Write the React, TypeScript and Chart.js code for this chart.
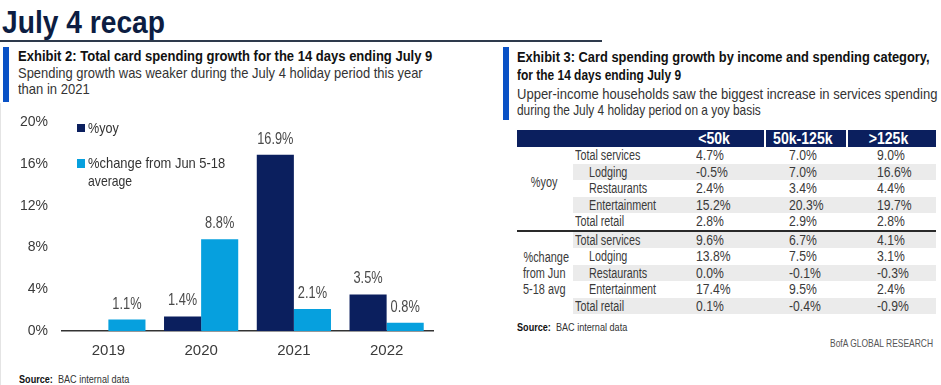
import React, { useEffect, useLayoutEffect, useRef } from 'react';
import { Chart, registerables } from 'chart.js';

Chart.register(...registerables);

// ---------- Data ----------
const categories = ['2019', '2020', '2021', '2022'];
const yoyValues: (number | null)[] = [null, 1.4, 16.9, 3.5];
const changeValues: (number | null)[] = [1.1, 8.8, 2.1, 0.8];
const seriesNames = ['%yoy', '%change from Jun 5-18 average'];
const yMin = 0;
const yMax = 20;
const yStep = 4;

const tableColumns = ['<50k', '50k-125k', '>125k'];
const tableItems = ['Total services', 'Lodging', 'Restaurants', 'Entertainment', 'Total retail'];
const itemIndented = [false, true, true, true, false];
const tableGroups = [['%yoy'], ['%change', 'from Jun', '5-18 avg']];
const yoyUnder50k = [4.7, -0.5, 2.4, 15.2, 2.8];
const yoy50to125k = [7.0, 7.0, 3.4, 20.3, 2.9];
const yoyOver125k = [9.0, 16.6, 4.4, 19.7, 2.8];
const chgUnder50k = [9.6, 13.8, 0.0, 17.4, 0.1];
const chg50to125k = [6.7, 7.5, -0.1, 9.5, -0.4];
const chgOver125k = [4.1, 3.1, -0.3, 2.4, -0.9];

// ---------- Styles ----------
const FONT = '"Liberation Sans", Arial, sans-serif';
const NAVY = '#0b1f5e';
const LIGHT = '#06a0de';
const ACCENT = '#0a52c6';
const TEXT = '#3a3a3a';

const fmt = (v: number) => v.toFixed(1) + '%';

// Text block positioned by its baseline, horizontally condensed either to a target width (w) or by factor k
function Fit(props: {
  x: number; base: number; size: number; w?: number; k?: number; bold?: boolean; color?: string;
  spacing?: number; children: React.ReactNode;
}) {
  const ref = useRef<HTMLSpanElement | null>(null);
  const { x, base, size, w, k, bold, color, spacing, children } = props;
  useLayoutEffect(() => {
    const el = ref.current;
    if (!el) return;
    let f = k ?? 1;
    if (w) {
      const natural = el.offsetWidth;
      if (natural > 0) f = w / natural;
    }
    el.style.transform = `scaleX(${f})`;
  }, [w, k]);
  return (
    <span
      ref={ref}
      style={{
        position: 'absolute', left: x, top: base - 0.8465 * size, fontSize: size, lineHeight: size + 'px',
        fontWeight: bold ? 'bold' : 'normal', color: color ?? TEXT, whiteSpace: 'nowrap',
        transformOrigin: 'left top', display: 'inline-block', letterSpacing: spacing ?? 0,
      }}
    >
      {children}
    </span>
  );
}

const valueLabels = {
  id: 'valueLabels',
  afterDatasetsDraw(chart: any) {
    const ctx = chart.ctx;
    chart.data.datasets.forEach((ds: any, di: number) => {
      const meta = chart.getDatasetMeta(di);
      meta.data.forEach((bar: any, i: number) => {
        const v = ds.data[i];
        if (v == null) return;
        ctx.save();
        ctx.font = `16px ${FONT}`;
        ctx.fillStyle = '#4a4a4a';
        ctx.textAlign = 'center';
        ctx.textBaseline = 'alphabetic';
        ctx.translate(bar.x, bar.y - 11);
        ctx.scale(0.8, 1);
        ctx.fillText(fmt(v), 0, 0);
        ctx.restore();
      });
    });
  },
};

function BarChart() {
  const ref = useRef<HTMLCanvasElement | null>(null);
  useEffect(() => {
    if (!ref.current) return;
    const chart = new Chart(ref.current, {
      type: 'bar',
      data: {
        labels: categories,
        datasets: [
          { label: seriesNames[0], data: yoyValues, backgroundColor: NAVY },
          { label: seriesNames[1], data: changeValues, backgroundColor: LIGHT },
        ],
      },
      options: {
        animation: false,
        responsive: false,
        layout: { padding: { left: 0, top: 22, right: 17, bottom: 0 } },
        plugins: { legend: { display: false }, tooltip: { enabled: false } },
        datasets: { bar: { categoryPercentage: 0.8, barPercentage: 1.0 } },
        scales: {
          x: {
            grid: { display: false, drawTicks: false },
            border: { display: true, color: '#333', width: 1.5 },
            ticks: { color: TEXT, font: { family: FONT, size: 15 }, padding: 11 },
            afterFit: (s: any) => { s.height = 34; },
          },
          y: {
            min: yMin,
            max: yMax,
            grid: { display: false, drawTicks: false },
            border: { display: false },
            ticks: {
              stepSize: yStep,
              color: TEXT,
              font: { family: FONT, size: 14 },
              padding: 14,
              callback: (v: any) => v + '%',
            },
            afterFit: (s: any) => { s.width = 62; },
          },
        },
      } as any,
      plugins: [valueLabels],
    });
    return () => chart.destroy();
  }, []);
  return <canvas ref={ref} width={450} height={265} style={{ position: 'absolute', left: 0, top: 100 }} />;
}

const abs = (s: React.CSSProperties): React.CSSProperties => ({ position: 'absolute', ...s });

function Table() {
  const groupsData = [
    [yoyUnder50k, yoy50to125k, yoyOver125k],
    [chgUnder50k, chg50to125k, chgOver125k],
  ];
  const rowH = 16.5;
  const headerTop = 130;
  const headerH = 17;
  const sepX = [765, 847];
  const valueX = [696, 789, 877];
  const headerCenters = [714, 803, 888];
  const els: React.ReactNode[] = [];
  els.push(<div key="hdr" style={abs({ left: 517, top: headerTop, width: 419, height: headerH, background: NAVY })} />);
  sepX.forEach((x, i) =>
    els.push(<div key={'sep' + i} style={abs({ left: x - 1, top: headerTop, width: 2, height: headerH, background: '#fff' })} />)
  );
  tableColumns.forEach((c, i) =>
    els.push(
      <div key={'hc' + i} style={abs({ left: headerCenters[i] - 50, width: 100, top: headerTop, height: headerH, lineHeight: headerH + 'px', textAlign: 'center' })}>
        <span style={{ display: 'inline-block', color: '#fff', fontWeight: 'bold', fontSize: 16, transform: 'scaleX(0.88)' }}>{c}</span>
      </div>
    )
  );
  let y = headerTop + headerH;
  let rowIdx = 0;
  groupsData.forEach((cols, g) => {
    const gTop = y;
    tableItems.forEach((item, r) => {
      if (rowIdx % 2 === 1) {
        els.push(<div key={'bg' + rowIdx} style={abs({ left: 573, top: y, width: 363, height: rowH, background: '#ebebeb' })} />);
      }
      const base = y + 13;
      els.push(
        <Fit key={'it' + rowIdx} x={itemIndented[r] ? 589 : 575} base={base} size={14} k={0.77}>{item}</Fit>
      );
      cols.forEach((arr, c) =>
        els.push(
          <Fit key={'v' + rowIdx + '_' + c} x={valueX[c]} base={base} size={14} k={0.87}>{fmt(arr[r])}</Fit>
        )
      );
      y += rowH;
      rowIdx++;
    });
    const gH = y - gTop;
    const lines = tableGroups[g];
    const lh = 16;
    const centerY = g === 0 ? gTop + gH / 2 - 6 : gTop + gH / 2;
    lines.forEach((l, i) => {
      const base = centerY - (lines.length * lh) / 2 + i * lh + lh / 2 + 5;
      els.push(
        <div key={'g' + g + '_' + i} style={abs({ left: 517, width: 55, top: base - 13, height: 16, lineHeight: '16px', textAlign: 'center' })}>
          <span style={{ display: 'inline-block', fontSize: 14, color: TEXT, transform: 'scaleX(0.78)', whiteSpace: 'nowrap' }}>{l}</span>
        </div>
      );
    });
    if (g === 0) {
      els.push(<div key="div" style={abs({ left: 517, top: y, width: 419, height: 2, background: '#2a2a2a' })} />);
      y += 2;
    }
  });
  return <>{els}</>;
}

export default function App() {
  return (
    <div style={{ position: 'absolute', left: 0, top: 0, width: 941, height: 385, background: '#fff', overflow: 'hidden', fontFamily: FONT, color: TEXT }}>
      <Fit x={2} base={33} size={32} w={163} bold color="#0c1d42">July 4 recap</Fit>
      <div style={abs({ left: 0, top: 40, width: 602, height: 2, background: '#2e3a4c' })} />

      {/* Left panel */}
      <div style={abs({ left: 0, top: 103, width: 1, height: 282, background: '#e4e4e4' })} />
      <div style={abs({ left: 3, top: 47, width: 6, height: 55, background: ACCENT })} />
      <Fit x={18} base={61.5} size={14.5} w={414} bold color="#111">Exhibit 2: Total card spending growth for the 14 days ending July 9</Fit>
      <Fit x={18} base={78} size={15} w={405} color="#333">Spending growth was weaker during the July 4 holiday period this year</Fit>
      <Fit x={18} base={94} size={15} w={72} color="#333">than in 2021</Fit>

      <BarChart />
      <div style={abs({ left: 77, top: 124, width: 8, height: 8, background: NAVY })} />
      <Fit x={88} base={133} size={15} w={31} color="#333">{seriesNames[0]}</Fit>
      <div style={abs({ left: 77, top: 159, width: 8, height: 9, background: LIGHT })} />
      <Fit x={88} base={168} size={15} w={137} color="#333">{seriesNames[1].split(' average')[0]}</Fit>
      <Fit x={88} base={186} size={15} w={44} color="#333">average</Fit>

      <Fit x={19} base={383} size={11} w={110} color="#333"><b style={{ color: '#111' }}>Source:</b>&nbsp; BAC internal data</Fit>

      {/* Right panel */}
      <div style={abs({ left: 503, top: 47, width: 6, height: 73, background: ACCENT })} />
      <Fit x={517} base={62} size={14.5} w={413} bold color="#111">Exhibit 3: Card spending growth by income and spending category,</Fit>
      <Fit x={517} base={80} size={14.5} w={164} bold color="#111">for the 14 days ending July 9</Fit>
      <Fit x={517} base={99} size={15} w={420} color="#333">Upper-income households saw the biggest increase in services spending</Fit>
      <Fit x={517} base={115} size={15} w={244} color="#333">during the July 4 holiday period on a yoy basis</Fit>
      <Table />
      <Fit x={517} base={331} size={11} w={110} color="#333"><b style={{ color: '#111' }}>Source:</b>&nbsp; BAC internal data</Fit>
      <Fit x={830} base={347} size={11} w={103} color="#555">BofA GLOBAL RESEARCH</Fit>
    </div>
  );
}
